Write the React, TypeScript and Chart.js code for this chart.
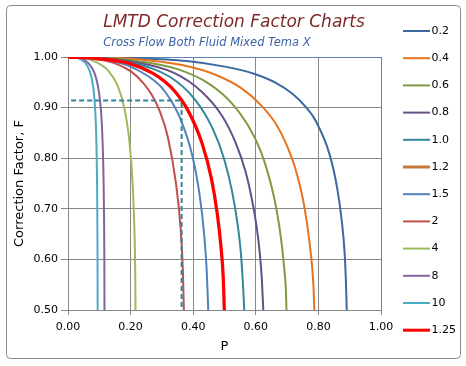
import React, { useEffect, useRef } from "react";
import { Chart, registerables } from "chart.js";

Chart.register(...registerables);

// ---- data -------------------------------------------------------------
const seriesLabels = ["0.2", "0.4", "0.6", "0.8", "1.0", "1.2", "1.5", "2", "4", "8", "10", "1.25"];
const seriesColors = ["#3C69A0", "#E8731C", "#7E9B40", "#66508A", "#32879C", "#C8793C", "#4F81BD", "#C0504D", "#9BBB59", "#8064A2", "#4BACC6", "#FF0000"];
const seriesWidths = [2, 2, 2, 2, 2, 3, 2, 2, 2, 2, 2, 3.25];

const pR02 = [0, 0.094, 0.216, 0.379, 0.501, 0.594, 0.664, 0.718, 0.760, 0.792, 0.835, 0.860, 0.875, 0.884, 0.888, 0.8905];
const fR02 = [1, 0.9997, 0.998, 0.992, 0.981, 0.967, 0.949, 0.927, 0.901, 0.873, 0.809, 0.741, 0.674, 0.611, 0.554, 0.50];

const pR04 = [0, 0.093, 0.212, 0.364, 0.475, 0.557, 0.618, 0.664, 0.698, 0.723, 0.742, 0.756, 0.774, 0.784, 0.787];
const fR04 = [1, 0.9993, 0.996, 0.984, 0.964, 0.937, 0.904, 0.868, 0.827, 0.786, 0.743, 0.701, 0.621, 0.550, 0.50];

const pR06 = [0, 0.0925, 0.207, 0.350, 0.451, 0.523, 0.575, 0.613, 0.640, 0.660, 0.674, 0.684, 0.691, 0.696, 0.698];
const fR06 = [1, 0.999, 0.993, 0.976, 0.947, 0.909, 0.865, 0.818, 0.768, 0.718, 0.670, 0.624, 0.581, 0.541, 0.50];

const pR08 = [0, 0.0916, 0.203, 0.337, 0.428, 0.492, 0.536, 0.567, 0.588, 0.603, 0.613, 0.619, 0.624];
const fR08 = [1, 0.9985, 0.991, 0.969, 0.931, 0.884, 0.830, 0.774, 0.717, 0.663, 0.611, 0.564, 0.50];

const pR10 = [0, 0.0908, 0.198, 0.325, 0.407, 0.462, 0.499, 0.524, 0.541, 0.552, 0.558, 0.562, 0.563];
const fR10 = [1, 0.9987, 0.989, 0.961, 0.915, 0.859, 0.798, 0.735, 0.673, 0.615, 0.562, 0.514, 0.50];

const pR12: number[] = [];
const fR12: number[] = [];

const pR15 = [0, 0.089, 0.188, 0.259, 0.296, 0.325, 0.359, 0.398, 0.421, 0.435, 0.443, 0.447, 0.448];
const fR15 = [1, 0.997, 0.984, 0.961, 0.942, 0.918, 0.878, 0.803, 0.725, 0.649, 0.580, 0.519, 0.50];

const pR2 = [0, 0.087, 0.152, 0.202, 0.240, 0.270, 0.293, 0.319, 0.345, 0.360, 0.367, 0.370, 0.3703];
const fR2 = [1, 0.996, 0.987, 0.971, 0.949, 0.923, 0.893, 0.842, 0.750, 0.660, 0.578, 0.506, 0.50];

const pR4 = [0, 0.044, 0.079, 0.1285, 0.160, 0.180, 0.1935, 0.202, 0.2096, 0.2148, 0.2157];
const fR4 = [1, 0.998, 0.993, 0.973, 0.941, 0.899, 0.848, 0.792, 0.705, 0.573, 0.50];

const pR8 = [0, 0.018, 0.040, 0.0665, 0.0836, 0.0949, 0.1023, 0.1073, 0.1127, 0.1151, 0.1161, 0.1165];
const fR8 = [1, 0.9995, 0.997, 0.987, 0.970, 0.945, 0.914, 0.876, 0.785, 0.689, 0.599, 0.50];

const pR100 = [0, 0.018, 0.0386, 0.0612, 0.0747, 0.0828, 0.0876, 0.0905, 0.0933, 0.0943, 0.0946, 0.0947];
const fR100 = [1, 0.9993, 0.996, 0.983, 0.961, 0.929, 0.887, 0.837, 0.723, 0.613, 0.521, 0.50];

const pR125 = [0, 0.090, 0.193, 0.270, 0.310, 0.343, 0.382, 0.428, 0.458, 0.477, 0.489, 0.496, 0.499, 0.4995];
const fR125 = [1, 0.997, 0.988, 0.968, 0.951, 0.931, 0.896, 0.830, 0.760, 0.690, 0.623, 0.564, 0.509, 0.50];

const seriesP = [pR02, pR04, pR06, pR08, pR10, pR12, pR15, pR2, pR4, pR8, pR100, pR125];
const seriesF = [fR02, fR04, fR06, fR08, fR10, fR12, fR15, fR2, fR4, fR8, fR100, fR125];

const dashP = [0.01, 0.363, 0.363];
const dashF = [0.914, 0.914, 0.50];

const xTicks = [0, 0.2, 0.4, 0.6, 0.8, 1.0];
const yTicks = [0.5, 0.6, 0.7, 0.8, 0.9, 1.0];

const titleText = "LMTD Correction Factor Charts";
const subtitleText = "Cross Flow Both Fluid Mixed Tema X";
const xTitle = "P";
const yTitle = "Correction Factor, F";

// ---- helpers ------------------------------------------------------------
const FONT = '"DejaVu Sans", Verdana, sans-serif';
const GRID = "#878787";

const toPoints = (ps: number[], fs: number[]) => ps.map((p, i) => ({ x: p, y: fs[i] }));

const decorPlugin = {
  id: "decor",
  beforeDraw(chart: any) {
    const ctx = chart.ctx;
    ctx.save();
    ctx.fillStyle = "#ffffff";
    ctx.fillRect(0, 0, chart.width, chart.height);
    ctx.strokeStyle = "#8A8A8A";
    ctx.lineWidth = 1;
    ctx.beginPath();
    if (ctx.roundRect) ctx.roundRect(6.5, 5.5, 454, 353, 4);
    else ctx.rect(6.5, 5.5, 454, 353);
    ctx.stroke();
    ctx.restore();
  },
  beforeDatasetsDraw(chart: any) {
    const { ctx, chartArea: a } = chart;
    ctx.save();
    ctx.strokeStyle = "#5A84BA";
    ctx.lineWidth = 1;
    ctx.beginPath();
    ctx.moveTo(a.left, a.top + 0.5);
    ctx.lineTo(a.right + 0.5, a.top + 0.5);
    ctx.lineTo(a.right + 0.5, a.bottom);
    ctx.stroke();
    ctx.restore();
  },
  afterDraw(chart: any) {
    const ctx = chart.ctx;
    ctx.save();
    // title
    ctx.font = `italic 17px ${FONT}`;
    ctx.fillStyle = "#7F2A2A";
    ctx.textAlign = "center";
    ctx.textBaseline = "middle";
    const cx = 234;
    ctx.fillText(titleText, cx, 22.5);
    const w = ctx.measureText(titleText).width;
    // subtitle, left aligned with title
    ctx.font = `italic 11.5px ${FONT}`;
    ctx.fillStyle = "#3D62A8";
    ctx.textAlign = "left";
    ctx.fillText(subtitleText, cx - w / 2, 43.5);
    // legend
    ctx.font = `11px ${FONT}`;
    ctx.textBaseline = "middle";
    seriesLabels.forEach((lab, i) => {
      const y = 31 + i * 27.2;
      ctx.strokeStyle = seriesColors[i];
      ctx.lineWidth = seriesWidths[i] > 2 ? 3 : 2;
      ctx.lineCap = "butt";
      ctx.beginPath();
      ctx.moveTo(403, y);
      ctx.lineTo(430, y);
      ctx.stroke();
      ctx.fillStyle = "#000000";
      ctx.fillText(lab, 431.5, y);
    });
    ctx.restore();
  },
};

export default function App() {
  const ref = useRef<HTMLCanvasElement | null>(null);

  useEffect(() => {
    if (!ref.current) return;
    const datasets: any[] = seriesLabels.map((lab, i) => ({
      label: lab,
      data: toPoints(seriesP[i], seriesF[i]),
      borderColor: seriesColors[i],
      backgroundColor: seriesColors[i],
      borderWidth: seriesWidths[i],
      pointRadius: 0,
      fill: false,
      cubicInterpolationMode: "monotone",
      order: i === 11 ? -1 : 20 - i,
    }));
    datasets.push({
      label: "",
      data: toPoints(dashP, dashF),
      borderColor: "#31859C",
      borderWidth: 2,
      borderDash: [5, 3],
      pointRadius: 0,
      fill: false,
      tension: 0,
      order: 0,
    });

    const chart = new Chart(ref.current, {
      type: "line",
      data: { datasets },
      plugins: [decorPlugin],
      options: {
        responsive: false,
        animation: false,
        devicePixelRatio: 1,
        layout: { padding: { top: 57, right: 85, bottom: 0, left: 0 } },
        plugins: {
          legend: { display: false },
          title: { display: false },
          tooltip: { enabled: false },
        },
        elements: { point: { radius: 0 } },
        scales: {
          x: {
            type: "linear",
            min: xTicks[0],
            max: xTicks[xTicks.length - 1],
            afterBuildTicks: (s: any) => {
              s.ticks = xTicks.map((v) => ({ value: v }));
            },
            afterFit: (s: any) => {
              s.height = 56;
            },
            grid: { color: GRID, lineWidth: 1, tickLength: 5 },
            border: { color: GRID, width: 1 },
            ticks: {
              padding: 6,
              color: "#000000",
              font: { family: FONT, size: 11 },
              maxRotation: 0,
              autoSkip: false,
              callback: (v: any) => Number(v).toFixed(2),
            },
            title: {
              display: true,
              text: xTitle,
              color: "#000000",
              font: { family: FONT, size: 13 },
              padding: { top: 0, bottom: 11.7 },
            },
          },
          y: {
            type: "linear",
            min: yTicks[0],
            max: yTicks[yTicks.length - 1],
            afterBuildTicks: (s: any) => {
              s.ticks = yTicks.map((v) => ({ value: v }));
            },
            afterFit: (s: any) => {
              s.width = 68;
            },
            grid: { color: GRID, lineWidth: 1, tickLength: 7 },
            border: { color: GRID, width: 1 },
            ticks: {
              padding: 3,
              color: "#000000",
              font: { family: FONT, size: 11 },
              autoSkip: false,
              callback: (v: any) => Number(v).toFixed(2),
            },
            title: {
              display: true,
              text: yTitle,
              color: "#000000",
              font: { family: FONT, size: 13 },
              padding: { top: 12.2, bottom: 0 },
            },
          },
        },
      } as any,
    });
    return () => chart.destroy();
  }, []);

  return (
    <div style={{ position: "fixed", left: 0, top: 0, width: 466, height: 366, background: "#fff" }}>
      <canvas ref={ref} width={466} height={366} style={{ display: "block", width: 466, height: 366 }} />
    </div>
  );
}
